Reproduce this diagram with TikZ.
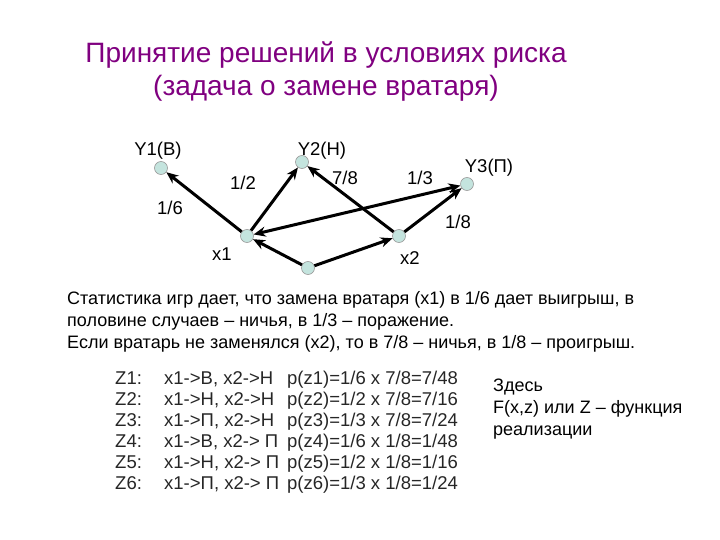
\documentclass[tikz,border=0pt]{standalone}
\usepackage{fontspec}
\setmainfont{Liberation Sans}
\usetikzlibrary{arrows.meta}
\definecolor{titlecol}{RGB}{128,0,128}
\definecolor{nodefill}{RGB}{196,228,222}
\tikzset{
  vert/.style={circle,draw=gray!80,line width=0.6pt,fill=nodefill,minimum size=13pt,inner sep=0pt},
  tip/.tip={Stealth[length=12pt,width=10pt]},
  arr/.style={line width=3pt,-tip},
  lbl/.style={font=\fontsize{18.5}{21}\selectfont,inner sep=0pt},
  body/.style={font=\fontsize{18}{21}\selectfont,anchor=base west,inner sep=0pt},
  tab/.style={font=\fontsize{18.5}{22}\selectfont,anchor=base west,inner sep=0pt,text=black!85},
  ttl/.style={font=\fontsize{28}{32}\selectfont,text=titlecol,inner sep=0pt}
}
\begin{document}
\begin{tikzpicture}[x=1pt,y=-1pt]
\useasboundingbox (0,0) rectangle (720,540);
% title
\node[ttl] (t1) at (326,55) {Принятие решений в условиях риска};
\node[ttl] (t2) at (326,88) {(задача о замене вратаря)};
% graph nodes
\node[vert] (y1) at (161,168) {};
\node[vert] (y2) at (302,162) {};
\node[vert] (y3) at (467,184) {};
\node[vert] (x1) at (247,236) {};
\node[vert] (x2) at (399,236) {};
\node[vert] (r) at (308,268) {};
% arrows
\draw[arr] (r) -- (x1);
\draw[arr] (r) -- (x2);
\draw[arr] (x1) -- (y1);
\draw[arr] (x1) -- (y2);
\draw[arr,tip-tip] (x1) -- (y3);
\draw[arr] (x2) -- (y2);
\draw[arr] (x2) -- (y3);
% labels
\node[lbl] (ly1) at (158,151) {Y1(В)};
\node[lbl] (ly2) at (322,151) {Y2(Н)};
\node[lbl] (ly3) at (489,168) {Y3(П)};
\node[lbl] (l12) at (243,183) {1/2};
\node[lbl] (l78) at (345,178) {7/8};
\node[lbl] (l13) at (420,178) {1/3};
\node[lbl] (l16) at (170,208) {1/6};
\node[lbl] (l18) at (458,222) {1/8};
\node[lbl] (lx1) at (222,254) {x1};
\node[lbl] (lx2) at (410,258) {x2};
% body text
\node[body] (b1) at (67,304) {Статистика игр дает, что замена вратаря (x1) в 1/6 дает выигрыш, в};
\node[body] (b2) at (67,326) {половине случаев – ничья, в 1/3 – поражение.};
\node[body] (b3) at (67,348) {Если вратарь не заменялся (x2), то в 7/8 – ничья, в 1/8 – проигрыш.};
% table
\foreach \i/\a/\b/\c in {0/Z1:/{x1->В, x2->Н}/{p(z1)=1/6 x 7/8=7/48},
                         1/Z2:/{x1->Н, x2->Н}/{p(z2)=1/2 x 7/8=7/16},
                         2/Z3:/{x1->П, x2->Н}/{p(z3)=1/3 x 7/8=7/24},
                         3/Z4:/{x1->В, x2-> П}/{p(z4)=1/6 x 1/8=1/48},
                         4/Z5:/{x1->Н, x2-> П}/{p(z5)=1/2 x 1/8=1/16},
                         5/Z6:/{x1->П, x2-> П}/{p(z6)=1/3 x 1/8=1/24}}{
  \node[tab] (za\i) at (115,{384.5+21*\i}) {\a};
  \node[tab] (zb\i) at (164,{384.5+21*\i}) {\b};
  \node[tab] (zc\i) at (287,{384.5+21*\i}) {\c};
}
% note
\node[body] (n1) at (493,391) {Здесь};
\node[body] (n2) at (493,413) {F(x,z) или Z – функция};
\node[body] (n3) at (493,435) {реализации};
\end{tikzpicture}
\end{document}
